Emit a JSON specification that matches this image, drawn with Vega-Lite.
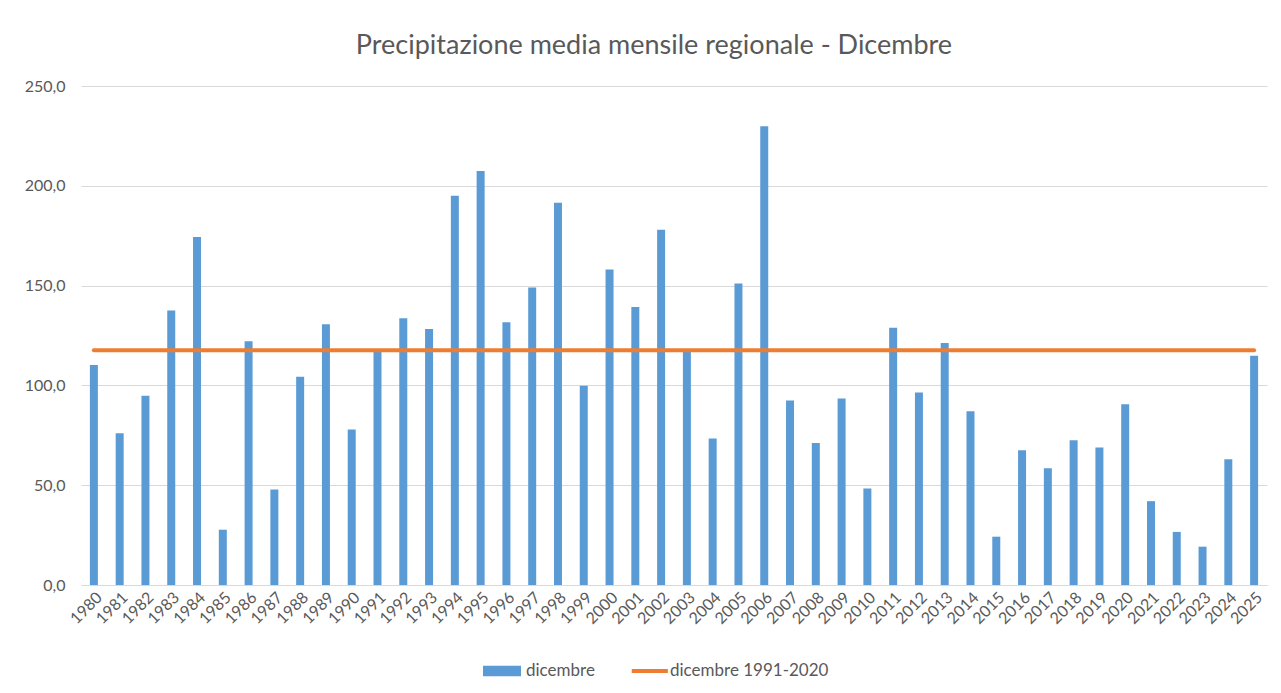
{
  "$schema": "https://vega.github.io/schema/vega-lite/v6.json",
  "autosize": "none",
  "width": 1186,
  "height": 499,
  "padding": {"left": 81, "top": 86, "right": 14, "bottom": 108},
  "background": "white",
  "config": {
    "font": "Lato",
    "view": {"stroke": null},
    "axis": {"labelFont": "Lato", "labelColor": "#595959", "labelFontSize": 16, "titleFont": "Lato"},
    "legend": {"labelFont": "Lato"}
  },
  "title": {
    "text": "Precipitazione media mensile regionale - Dicembre",
    "font": "Lato",
    "fontSize": 27,
    "fontWeight": "normal",
    "color": "#595959",
    "anchor": "middle",
    "dx": -20,
    "offset": 18
  },
  "data": {
    "values": [
      {"anno": "1980", "dicembre": 110.2, "media": 117.6},
      {"anno": "1981", "dicembre": 76.0, "media": 117.6},
      {"anno": "1982", "dicembre": 94.8, "media": 117.6},
      {"anno": "1983", "dicembre": 137.5, "media": 117.6},
      {"anno": "1984", "dicembre": 174.4, "media": 117.6},
      {"anno": "1985", "dicembre": 27.7, "media": 117.6},
      {"anno": "1986", "dicembre": 122.1, "media": 117.6},
      {"anno": "1987", "dicembre": 47.9, "media": 117.6},
      {"anno": "1988", "dicembre": 104.3, "media": 117.6},
      {"anno": "1989", "dicembre": 130.6, "media": 117.6},
      {"anno": "1990", "dicembre": 77.9, "media": 117.6},
      {"anno": "1991", "dicembre": 116.8, "media": 117.6},
      {"anno": "1992", "dicembre": 133.7, "media": 117.6},
      {"anno": "1993", "dicembre": 128.2, "media": 117.6},
      {"anno": "1994", "dicembre": 195.0, "media": 117.6},
      {"anno": "1995", "dicembre": 207.4, "media": 117.6},
      {"anno": "1996", "dicembre": 131.7, "media": 117.6},
      {"anno": "1997", "dicembre": 149.1, "media": 117.6},
      {"anno": "1998", "dicembre": 191.5, "media": 117.6},
      {"anno": "1999", "dicembre": 99.8, "media": 117.6},
      {"anno": "2000", "dicembre": 158.1, "media": 117.6},
      {"anno": "2001", "dicembre": 139.3, "media": 117.6},
      {"anno": "2002", "dicembre": 178.0, "media": 117.6},
      {"anno": "2003", "dicembre": 116.8, "media": 117.6},
      {"anno": "2004", "dicembre": 73.4, "media": 117.6},
      {"anno": "2005", "dicembre": 151.0, "media": 117.6},
      {"anno": "2006", "dicembre": 229.8, "media": 117.6},
      {"anno": "2007", "dicembre": 92.4, "media": 117.6},
      {"anno": "2008", "dicembre": 71.1, "media": 117.6},
      {"anno": "2009", "dicembre": 93.4, "media": 117.6},
      {"anno": "2010", "dicembre": 48.4, "media": 117.6},
      {"anno": "2011", "dicembre": 128.9, "media": 117.6},
      {"anno": "2012", "dicembre": 96.5, "media": 117.6},
      {"anno": "2013", "dicembre": 121.3, "media": 117.6},
      {"anno": "2014", "dicembre": 87.0, "media": 117.6},
      {"anno": "2015", "dicembre": 24.2, "media": 117.6},
      {"anno": "2016", "dicembre": 67.5, "media": 117.6},
      {"anno": "2017", "dicembre": 58.5, "media": 117.6},
      {"anno": "2018", "dicembre": 72.5, "media": 117.6},
      {"anno": "2019", "dicembre": 68.9, "media": 117.6},
      {"anno": "2020", "dicembre": 90.5, "media": 117.6},
      {"anno": "2021", "dicembre": 42.0, "media": 117.6},
      {"anno": "2022", "dicembre": 26.6, "media": 117.6},
      {"anno": "2023", "dicembre": 19.2, "media": 117.6},
      {"anno": "2024", "dicembre": 63.0, "media": 117.6},
      {"anno": "2025", "dicembre": 114.9, "media": 117.6}
    ]
  },
  "encoding": {
    "x": {
      "field": "anno",
      "type": "ordinal",
      "title": null,
      "scale": {"paddingInner": 0.69, "paddingOuter": 0.345},
      "axis": {
        "labelAngle": -45,
        "ticks": false,
        "domainColor": "#D9D9D9",
        "domainWidth": 1,
        "labelPadding": 4,
        "grid": false
      }
    }
  },
  "layer": [
    {
      "mark": {"type": "bar", "color": "#5B9BD5"},
      "encoding": {
        "y": {
          "field": "dicembre",
          "type": "quantitative",
          "title": null,
          "scale": {"domain": [0, 250], "nice": false},
          "axis": {
            "values": [0, 50, 100, 150, 200, 250],
            "labelExpr": "replace(format(datum.value, '.1f'), '.', ',')",
            "domain": false,
            "ticks": false,
            "gridColor": "#D9D9D9",
            "gridWidth": 1,
            "labelPadding": 16
          }
        },
        "color": {
          "datum": "dicembre",
          "type": "nominal",
          "scale": {"domain": ["dicembre", "dicembre 1991-2020"], "range": ["#5B9BD5", "#ED7D31"]},
          "legend": {
            "title": null,
            "orient": "none",
            "direction": "horizontal",
            "legendX": 402,
            "legendY": 566,
            "labelFontSize": 17,
            "labelColor": "#595959",
            "labelOffset": 5,
            "columnPadding": 32,
            "symbolSize": 1444,
            "encode": {
              "symbols": {
                "update": {
                  "shape": {"signal": "datum.value === 'dicembre' ? 'M-1,-0.27H1V0.27H-1Z' : 'M-0.75,-0.1H1.15V0.1H-0.75Z'"},
                  "fill": {"signal": "datum.value === 'dicembre' ? '#5B9BD5' : '#ED7D31'"},
                  "stroke": {"value": "transparent"},
                  "strokeWidth": {"value": 0},
                  "opacity": {"value": 1}
                }
              }
            }
          }
        }
      }
    },
    {
      "mark": {"type": "line", "strokeWidth": 4, "strokeCap": "round"},
      "encoding": {
        "y": {"field": "media", "type": "quantitative"},
        "color": {"datum": "dicembre 1991-2020", "type": "nominal"}
      }
    }
  ]
}
